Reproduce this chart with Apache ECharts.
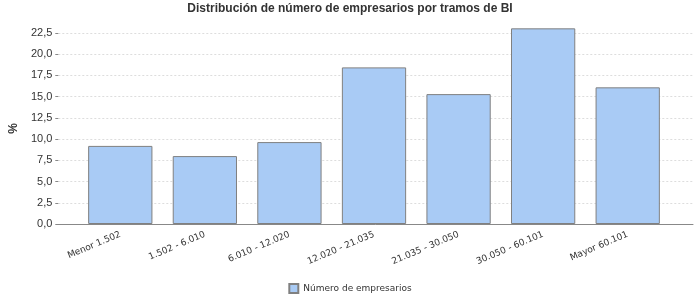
<!DOCTYPE html>
<html>
<head>
<meta charset="utf-8">
<script src="https://cdn.jsdelivr.net/npm/echarts@6/dist/echarts.min.js"></script>
<style>html,body{margin:0;padding:0;background:#fff}#c{width:700px;height:300px}</style>
</head>
<body>
<div id="c"></div>
<script>
const categories = ['Menor 1.502', '1.502 - 6.010', '6.010 - 12.020', '12.020 - 21.035', '21.035 - 30.050', '30.050 - 60.101', 'Mayor 60.101'];
const seriesName = 'Número de empresarios';
const values = [9.2, 8.0, 9.65, 18.45, 15.3, 23.05, 16.1];
const yMin = 0, yMax = 22.5, yStep = 2.5;

const chart = echarts.init(document.getElementById('c'), null, {renderer: 'canvas'});
const fmt = v => v.toFixed(1).replace('.', ',');
chart.setOption({
  animation: false,
  title: {
    text: 'Distribución de número de empresarios por tramos de BI',
    left: 'center', top: -2,
    textStyle: {fontFamily: 'Liberation Sans', fontSize: 12, fontWeight: 'bold', color: '#333'}
  },
  legend: {
    bottom: 1, left: 'center',
    itemWidth: 9, itemHeight: 9, itemGap: 5,
    textStyle: {fontFamily: 'DejaVu Sans', fontSize: 9, color: '#333'},
    data: [{name: seriesName, icon: 'rect'}]
  },
  grid: [
    {left: 57, right: 7, top: 33, bottom: 76},
    {left: 78, right: 30, top: 33, bottom: 76}
  ],
  xAxis: [
    {gridIndex: 0, type: 'value', min: 0, max: 1, show: true,
     axisLine: {show: true, lineStyle: {color: '#888', width: 1}},
     axisTick: {show: false}, axisLabel: {show: false}, splitLine: {show: false}},
    {gridIndex: 1, type: 'category', data: categories,
     axisLine: {show: false}, axisTick: {show: false},
     axisLabel: {rotate: 23, margin: 10, fontFamily: 'DejaVu Sans', fontSize: 9, color: '#333', interval: 0}}
  ],
  yAxis: [
    {gridIndex: 0, type: 'value', min: yMin, max: yMax, interval: yStep,
     name: '%', nameLocation: 'middle', nameGap: 37, nameRotate: 90,
     nameTextStyle: {fontFamily: 'Liberation Sans', fontSize: 12, fontWeight: 'bold', color: '#333'},
     axisLine: {show: false},
     axisTick: {show: true, length: 3, lineStyle: {color: '#888'}},
     axisLabel: {formatter: fmt, margin: 6, fontFamily: 'Liberation Sans', fontSize: 11, color: '#333'},
     splitLine: {show: true, lineStyle: {color: '#ddd', type: [2, 2], width: 1}}},
    {gridIndex: 1, type: 'value', min: yMin, max: yMax, interval: yStep, show: false,
     splitLine: {show: false}}
  ],
  series: [{
    name: seriesName, type: 'bar', xAxisIndex: 1, yAxisIndex: 1,
    data: values, barCategoryGap: '24%', clip: false,
    itemStyle: {color: '#a9cbf5', borderColor: '#808080', borderWidth: 1}
  }]
});
</script>
</body>
</html>
